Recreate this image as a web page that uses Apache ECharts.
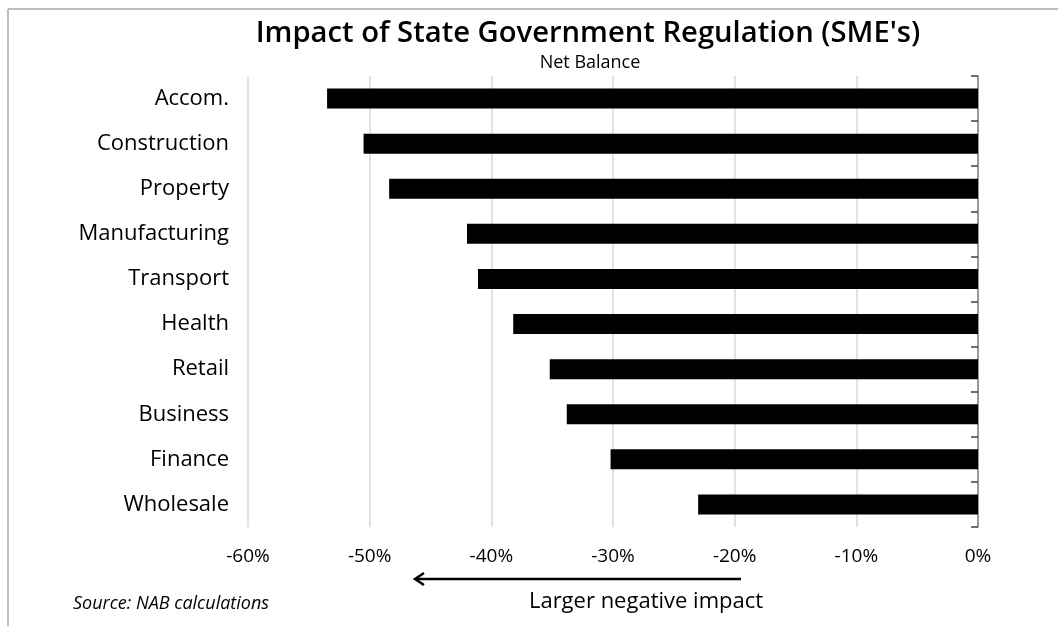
<!DOCTYPE html>
<html>
<head>
<meta charset="utf-8">
<script src="https://cdn.jsdelivr.net/npm/echarts@6/dist/echarts.min.js"></script>
<style>
html,body{margin:0;padding:0;background:#fff;}
#chart{width:1058px;height:626px;}
</style>
</head>
<body>
<div id="chart"></div>
<script>
const categories = ['Accom.', 'Construction', 'Property', 'Manufacturing', 'Transport', 'Health', 'Retail', 'Business', 'Finance', 'Wholesale'];
const netBalance = [-53.5, -50.5, -48.4, -42.0, -41.1, -38.2, -35.2, -33.8, -30.2, -23.0];
const xTicks = [-60, -50, -40, -30, -20, -10, 0];

const FONT = 'Open Sans';
const chart = echarts.init(document.getElementById('chart'), null, {renderer: 'canvas'});
const option = {
  animation: false,
  backgroundColor: '#fff',
  title: [
    {text: "Impact of State Government Regulation (SME's)", left: 583, top: 14, textAlign: 'center',
     textStyle: {fontFamily: FONT, fontSize: 29.2, fontWeight: 600, color: '#000'}},
    {text: 'Net Balance', left: 585, top: 49, textAlign: 'center',
     textStyle: {fontFamily: FONT, fontSize: 18, fontWeight: 'normal', color: '#000'}}
  ],
  grid: {left: 248, right: 80, top: 76, bottom: 99, containLabel: false},
  xAxis: {
    type: 'value', min: xTicks[0], max: xTicks[xTicks.length - 1], interval: 10,
    axisLine: {show: false}, axisTick: {show: false},
    splitLine: {show: true, lineStyle: {color: '#d9d9d9', width: 1.5}},
    axisLabel: {formatter: v => v + '%', fontFamily: FONT, fontSize: 19, color: '#000', margin: 20}
  },
  yAxis: [
    {
      type: 'category', data: categories, inverse: true, position: 'left',
      axisLine: {show: false}, axisTick: {show: false},
      axisLabel: {fontFamily: FONT, fontSize: 22, color: '#000', margin: 19}
    },
    {
      type: 'category', data: categories, inverse: true, position: 'right',
      axisLine: {show: true, lineStyle: {color: '#808080', width: 1.5}},
      axisTick: {show: true, inside: true, length: 7, lineStyle: {color: '#404040', width: 1.5}},
      axisLabel: {show: false}
    }
  ],
  series: [{
    type: 'bar', yAxisIndex: 0, data: netBalance, barWidth: 20,
    itemStyle: {color: '#000'}
  }],
  graphic: [
    {type: 'line', shape: {x1: 8, y1: 9, x2: 1058, y2: 9}, style: {stroke: '#bfbfbf', lineWidth: 2}},
    {type: 'line', shape: {x1: 8, y1: 9, x2: 8, y2: 626}, style: {stroke: '#bfbfbf', lineWidth: 2}},
    {type: 'line', shape: {x1: 741, y1: 579, x2: 416, y2: 579}, style: {stroke: '#000', lineWidth: 2.5}},
    {type: 'polyline', shape: {points: [[424, 573], [415, 579], [424, 585]]}, style: {stroke: '#000', lineWidth: 2.5, fill: null}},
    {type: 'text', style: {text: 'Larger negative impact', x: 646, y: 602, textAlign: 'center', textVerticalAlign: 'middle', font: '22px "Open Sans"', fill: '#000'}},
    {type: 'text', style: {text: 'Source: NAB calculations', x: 73, y: 604, textAlign: 'left', textVerticalAlign: 'middle', font: 'italic 18px "Open Sans"', fill: '#000'}}
  ]
};
chart.setOption(option);
</script>
</body>
</html>
